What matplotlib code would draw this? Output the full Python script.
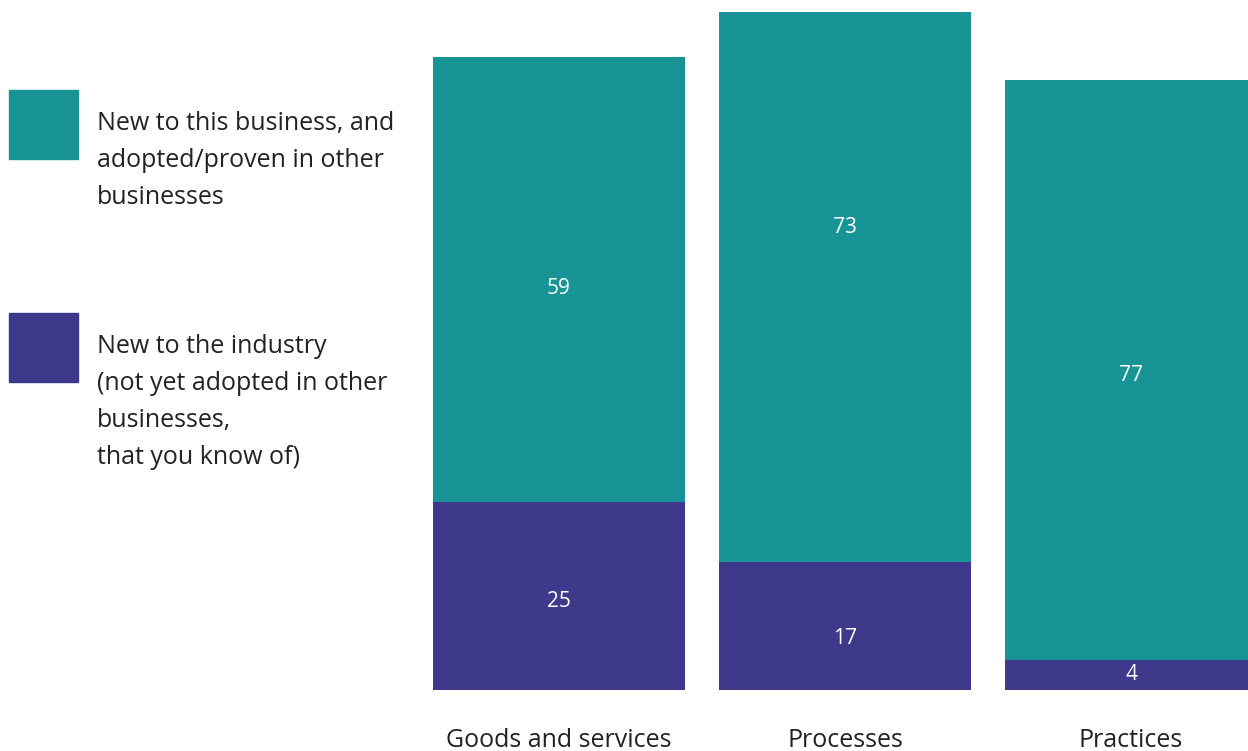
import matplotlib.pyplot as plt
from matplotlib.patches import Rectangle

categories = ["Goods and services", "Processes", "Practices"]
industry = [25, 17, 4]
business = [59, 73, 77]

# where the value labels sit, as a shift from the segment centre (data units)
industry_shift = [-0.3, -1.3, 0.4]
business_shift = [-0.8, 8.3, -0.3]

teal = "#189496"
purple = "#3f398c"
W, H = 1248, 751

plt.rcParams['font.family'] = ['Open Sans', 'DejaVu Sans']

fig = plt.figure(figsize=(W / 100, H / 100), dpi=100)
ax = fig.add_axes([420 / W, (H - 690) / H, 828 / W, 690 / H])

x = list(range(len(categories)))
width = 0.881
ax.bar(x, industry, width=width, color=purple)
ax.bar(x, business, width=width, bottom=industry, color=teal)

for i in x:
    ax.annotate(str(industry[i]), (i, industry[i] / 2 + industry_shift[i]),
                xytext=(0, -2.2), textcoords='offset points',
                ha='center', va='center', color='white', fontsize=15)
    ax.annotate(str(business[i]),
                (i, industry[i] + business[i] / 2 + business_shift[i]),
                xytext=(0, -2.2), textcoords='offset points',
                ha='center', va='center', color='white', fontsize=15)
    ax.text(i, -6.7, categories[i], ha='center', va='center', color='#222222',
            fontsize=18, clip_on=False)

ax.set_xlim(-0.486, 2.409)
ax.set_ylim(0, 91.6)
ax.axis('off')

# legend drawn by hand on the left
fig.patches.append(Rectangle((9 / W, 1 - 159 / H), 69 / W, 69 / H,
                             transform=fig.transFigure, color=teal))
fig.patches.append(Rectangle((9 / W, 1 - 382 / H), 69 / W, 69 / H,
                             transform=fig.transFigure, color=purple))
fig.text(97 / W, 1 - 111 / H,
         "New to this business, and\nadopted/proven in other\nbusinesses",
         ha='left', va='top', fontsize=18, color='#222222',
         linespacing=1.64)
fig.text(97 / W, 1 - 334 / H,
         "New to the industry\n(not yet adopted in other\nbusinesses,\nthat you know of)",
         ha='left', va='top', fontsize=18, color='#222222',
         linespacing=1.64)

fig.savefig("out.png", dpi=100)
